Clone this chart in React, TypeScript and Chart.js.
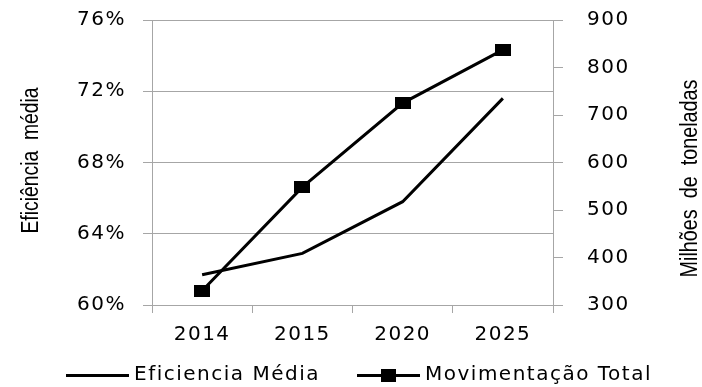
import React, { useEffect, useRef } from 'react';
import { Chart, registerables } from 'chart.js';

Chart.register(...registerables);

// ---- data ----
const categories = ['2014', '2015', '2020', '2025'];
const eficienciaMedia = [61.7, 62.9, 65.8, 71.6]; // %
const movimentacaoTotal = [330, 548, 725, 837]; // milhões de toneladas
const seriesLabels = ['Eficiencia Média', 'Movimentação Total'];
const leftAxisTitle = 'Eficiência  média';
const rightAxisTitle = 'Milhões  de  toneladas';
const leftMin = 60;
const leftMax = 76;
const leftStep = 4;
const rightMin = 300;
const rightMax = 900;
const rightStep = 100;

// ---- styles ----
const GRID = '#a6a6a6';
const TEXT = '#000000';
const TICK_FAMILY = "'DejaVu Sans', Verdana, sans-serif";
const TICK_SIZE = 20;
const LETTER_SPACING = '1.5px';
const TITLE_FONT = "23px 'Liberation Sans', Arial, sans-serif";

function makeCanvas(w: number, h: number, draw: (ctx: CanvasRenderingContext2D) => void) {
  const c = document.createElement('canvas');
  c.width = w;
  c.height = h;
  const ctx = c.getContext('2d') as CanvasRenderingContext2D;
  draw(ctx);
  return c;
}

function drawVerticalTitle(ctx: any, text: string, cx: number, cy: number, sx: number) {
  ctx.save();
  ctx.letterSpacing = '0px';
  ctx.translate(cx, cy);
  ctx.rotate(-Math.PI / 2);
  ctx.scale(sx, 1);
  ctx.font = TITLE_FONT;
  ctx.fillStyle = TEXT;
  ctx.textAlign = 'center';
  ctx.textBaseline = 'middle';
  ctx.fillText(text, 0, 0);
  ctx.restore();
}

const spacingPlugin = {
  id: 'letterSpacing',
  beforeLayout(chart: any) {
    chart.ctx.letterSpacing = LETTER_SPACING;
  },
  beforeDraw(chart: any) {
    chart.ctx.letterSpacing = LETTER_SPACING;
  },
};

const titlesPlugin = {
  id: 'axisTitles',
  afterDraw(chart: any) {
    const { ctx, chartArea } = chart;
    const midY = (chartArea.top + chartArea.bottom) / 2;
    drawVerticalTitle(ctx, leftAxisTitle, chart.scales.y.left + 32, midY - 2, 0.84);
    drawVerticalTitle(ctx, rightAxisTitle, chart.scales.y1.right - 11, midY + 16, 0.86);
  },
};

const legendPlugin = {
  id: 'customLegend',
  afterDraw(chart: any) {
    const { ctx } = chart;
    const sample = 63;
    const gapText = 5;
    const gapItem = 37;
    const lineY = 374;
    ctx.save();
    ctx.letterSpacing = LETTER_SPACING;
    ctx.font = `${TICK_SIZE}px ${TICK_FAMILY}`;
    const items = chart.data.datasets.map((ds: any) => ({
      label: ds.label as string,
      w: ctx.measureText(ds.label).width,
      marker: ds.pointRadius > 0,
    }));
    const total =
      items.reduce((s: number, it: any) => s + sample + gapText + it.w, 0) + gapItem * (items.length - 1);
    let x = Math.round(chart.width / 2 + 8 - total / 2);
    ctx.fillStyle = TEXT;
    ctx.textAlign = 'left';
    ctx.textBaseline = 'middle';
    items.forEach((it: any) => {
      ctx.fillRect(x, lineY, sample, 3);
      if (it.marker) ctx.fillRect(x + 24, lineY - 5, 15, 13);
      ctx.fillText(it.label, x + sample + gapText, lineY + 1);
      x += sample + gapText + it.w + gapItem;
    });
    ctx.restore();
  },
};

export default function App() {
  const ref = useRef<HTMLCanvasElement>(null);

  useEffect(() => {
    if (!ref.current) return;
    const pointImg = makeCanvas(16, 12, (ctx) => {
      ctx.fillStyle = '#000';
      ctx.fillRect(0, 0, 16, 12);
    });

    const tickFont = { family: TICK_FAMILY, size: TICK_SIZE };

    const chart = new Chart(ref.current, {
      type: 'line',
      data: {
        labels: categories,
        datasets: [
          {
            label: seriesLabels[0],
            data: eficienciaMedia,
            yAxisID: 'y',
            borderColor: '#000',
            backgroundColor: '#000',
            borderWidth: 3,
            pointRadius: 0,
            pointHoverRadius: 0,
            tension: 0,
            fill: false,
          },
          {
            label: seriesLabels[1],
            data: movimentacaoTotal,
            yAxisID: 'y1',
            borderColor: '#000',
            backgroundColor: '#000',
            borderWidth: 3,
            pointStyle: pointImg as any,
            pointRadius: 8,
            pointHoverRadius: 8,
            tension: 0,
            fill: false,
          },
        ],
      },
      options: {
        responsive: false,
        animation: false,
        devicePixelRatio: 1,
        layout: { padding: { top: 20, left: 0, right: 0, bottom: 37 } },
        plugins: {
          tooltip: { enabled: false },
          legend: { display: false },
        },
        scales: {
          x: {
            type: 'category',
            offset: true,
            grid: { offset: true, drawOnChartArea: false, drawTicks: true, tickLength: 8, color: GRID },
            border: { color: GRID, width: 1 },
            ticks: { color: TEXT, font: tickFont, padding: 10, maxRotation: 0, autoSkip: false },
            afterFit: (s: any) => {
              s.height = 45;
              s.paddingLeft = 0;
              s.paddingRight = 0;
            },
          },
          y: {
            position: 'left',
            min: leftMin,
            max: leftMax,
            ticks: {
              stepSize: leftStep,
              color: TEXT,
              font: tickFont,
              padding: 17,
              callback: (v: any) => `${v}%`,
            },
            grid: { color: GRID, tickLength: 9, drawTicks: true },
            border: { color: GRID, width: 1 },
            afterFit: (s: any) => {
              s.width = 152;
              s.paddingTop = 0;
              s.paddingBottom = 0;
            },
          },
          y1: {
            position: 'right',
            min: rightMin,
            max: rightMax,
            ticks: {
              stepSize: rightStep,
              color: TEXT,
              font: tickFont,
              padding: 24,
            },
            grid: { drawOnChartArea: false, tickLength: 10, color: GRID, drawTicks: true },
            border: { color: GRID, width: 1 },
            afterFit: (s: any) => {
              s.width = 149;
              s.paddingTop = 0;
              s.paddingBottom = 0;
            },
          },
        },
      } as any,
      plugins: [spacingPlugin, titlesPlugin, legendPlugin],
    });

    return () => chart.destroy();
  }, []);

  return (
    <div style={{ position: 'absolute', left: 0, top: 0, width: 702, height: 387, background: '#fff' }}>
      <canvas ref={ref} width={702} height={387} />
    </div>
  );
}
